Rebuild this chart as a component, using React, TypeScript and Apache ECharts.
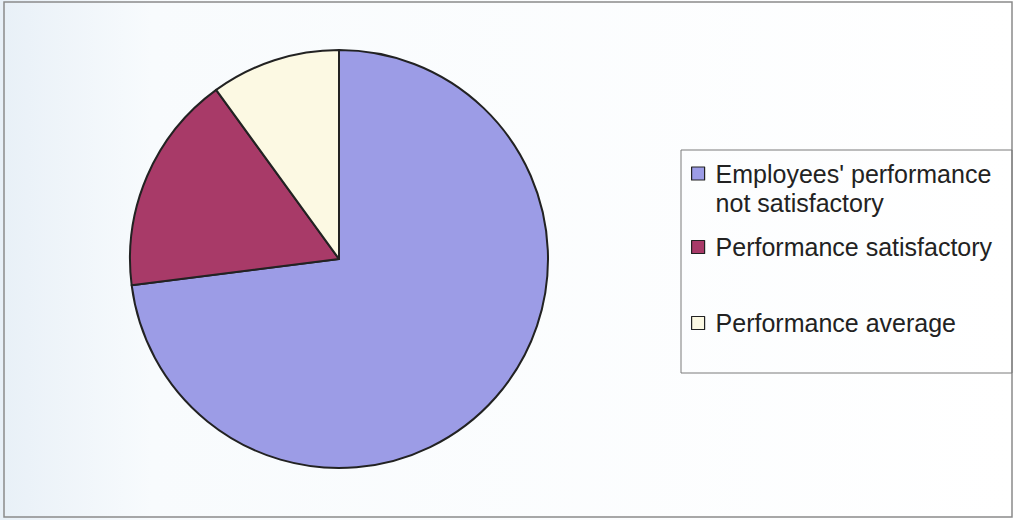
import React, { useEffect, useRef } from "react";
import * as echarts from "echarts";

const categories = [
  "Employees' performance\nnot satisfactory",
  "Performance satisfactory",
  "Performance average",
];
const values = [73, 17, 10];
const colors = ["#9c9ce6", "#a83a68", "#fcf9e3"];

export default function App() {
  const ref = useRef<HTMLDivElement>(null);
  useEffect(() => {
    if (!ref.current) return;
    const chart = echarts.init(ref.current, null, { renderer: "svg" });
    const font = "'Liberation Sans', Arial, sans-serif";
    const pads = [
      [0, 0, 0, 6],
      [0, 0, 0, 6],
      [31.5, 0, 31.5, 6],
    ];
    chart.setOption({
      animation: false,
      backgroundColor: {
        type: "linear",
        x: 0,
        y: 0,
        x2: 1,
        y2: 0,
        colorStops: [
          { offset: 0, color: "#e8f0f7" },
          { offset: 0.15, color: "#f8fbfd" },
          { offset: 1, color: "#ffffff" },
        ],
      },
      graphic: [
        {
          type: "rect",
          shape: { x: 4, y: 2, width: 1008, height: 515 },
          style: { fill: "none", stroke: "#8a8a8a", lineWidth: 1.5 },
          silent: true,
        },
        {
          type: "rect",
          shape: { x: 681, y: 150, width: 331, height: 223 },
          style: { fill: "none", stroke: "#7a7a7a", lineWidth: 1 },
          silent: true,
        },
      ],
      legend: {
        orient: "vertical",
        left: 691,
        top: 130,
        padding: 0,
        itemGap: 15.5,
        itemWidth: 13,
        itemHeight: 13,
        icon: "rect",
        selectedMode: false,
        itemStyle: { borderColor: "#222", borderWidth: 1.2 },
        formatter: (name: string) => (name === categories[0] ? "\n" + name : name),
        textStyle: {
          fontFamily: font,
          fontSize: 25,
          lineHeight: 29,
          color: "#222",
        },
        data: categories.map((name, i) => ({
          name,
          textStyle: { padding: pads[i] },
        })),
      },
      series: [
        {
          type: "pie",
          center: [339, 259],
          radius: 209,
          startAngle: 90,
          clockwise: true,
          label: { show: false },
          labelLine: { show: false },
          emphasis: { disabled: true },
          itemStyle: { borderColor: "#222", borderWidth: 2 },
          data: categories.map((name, i) => ({
            name,
            value: values[i],
            itemStyle: { color: colors[i] },
          })),
        },
      ],
    });
    return () => chart.dispose();
  }, []);
  return (
    <div
      ref={ref}
      style={{ position: "absolute", left: 0, top: 0, width: 1014, height: 520 }}
    />
  );
}
